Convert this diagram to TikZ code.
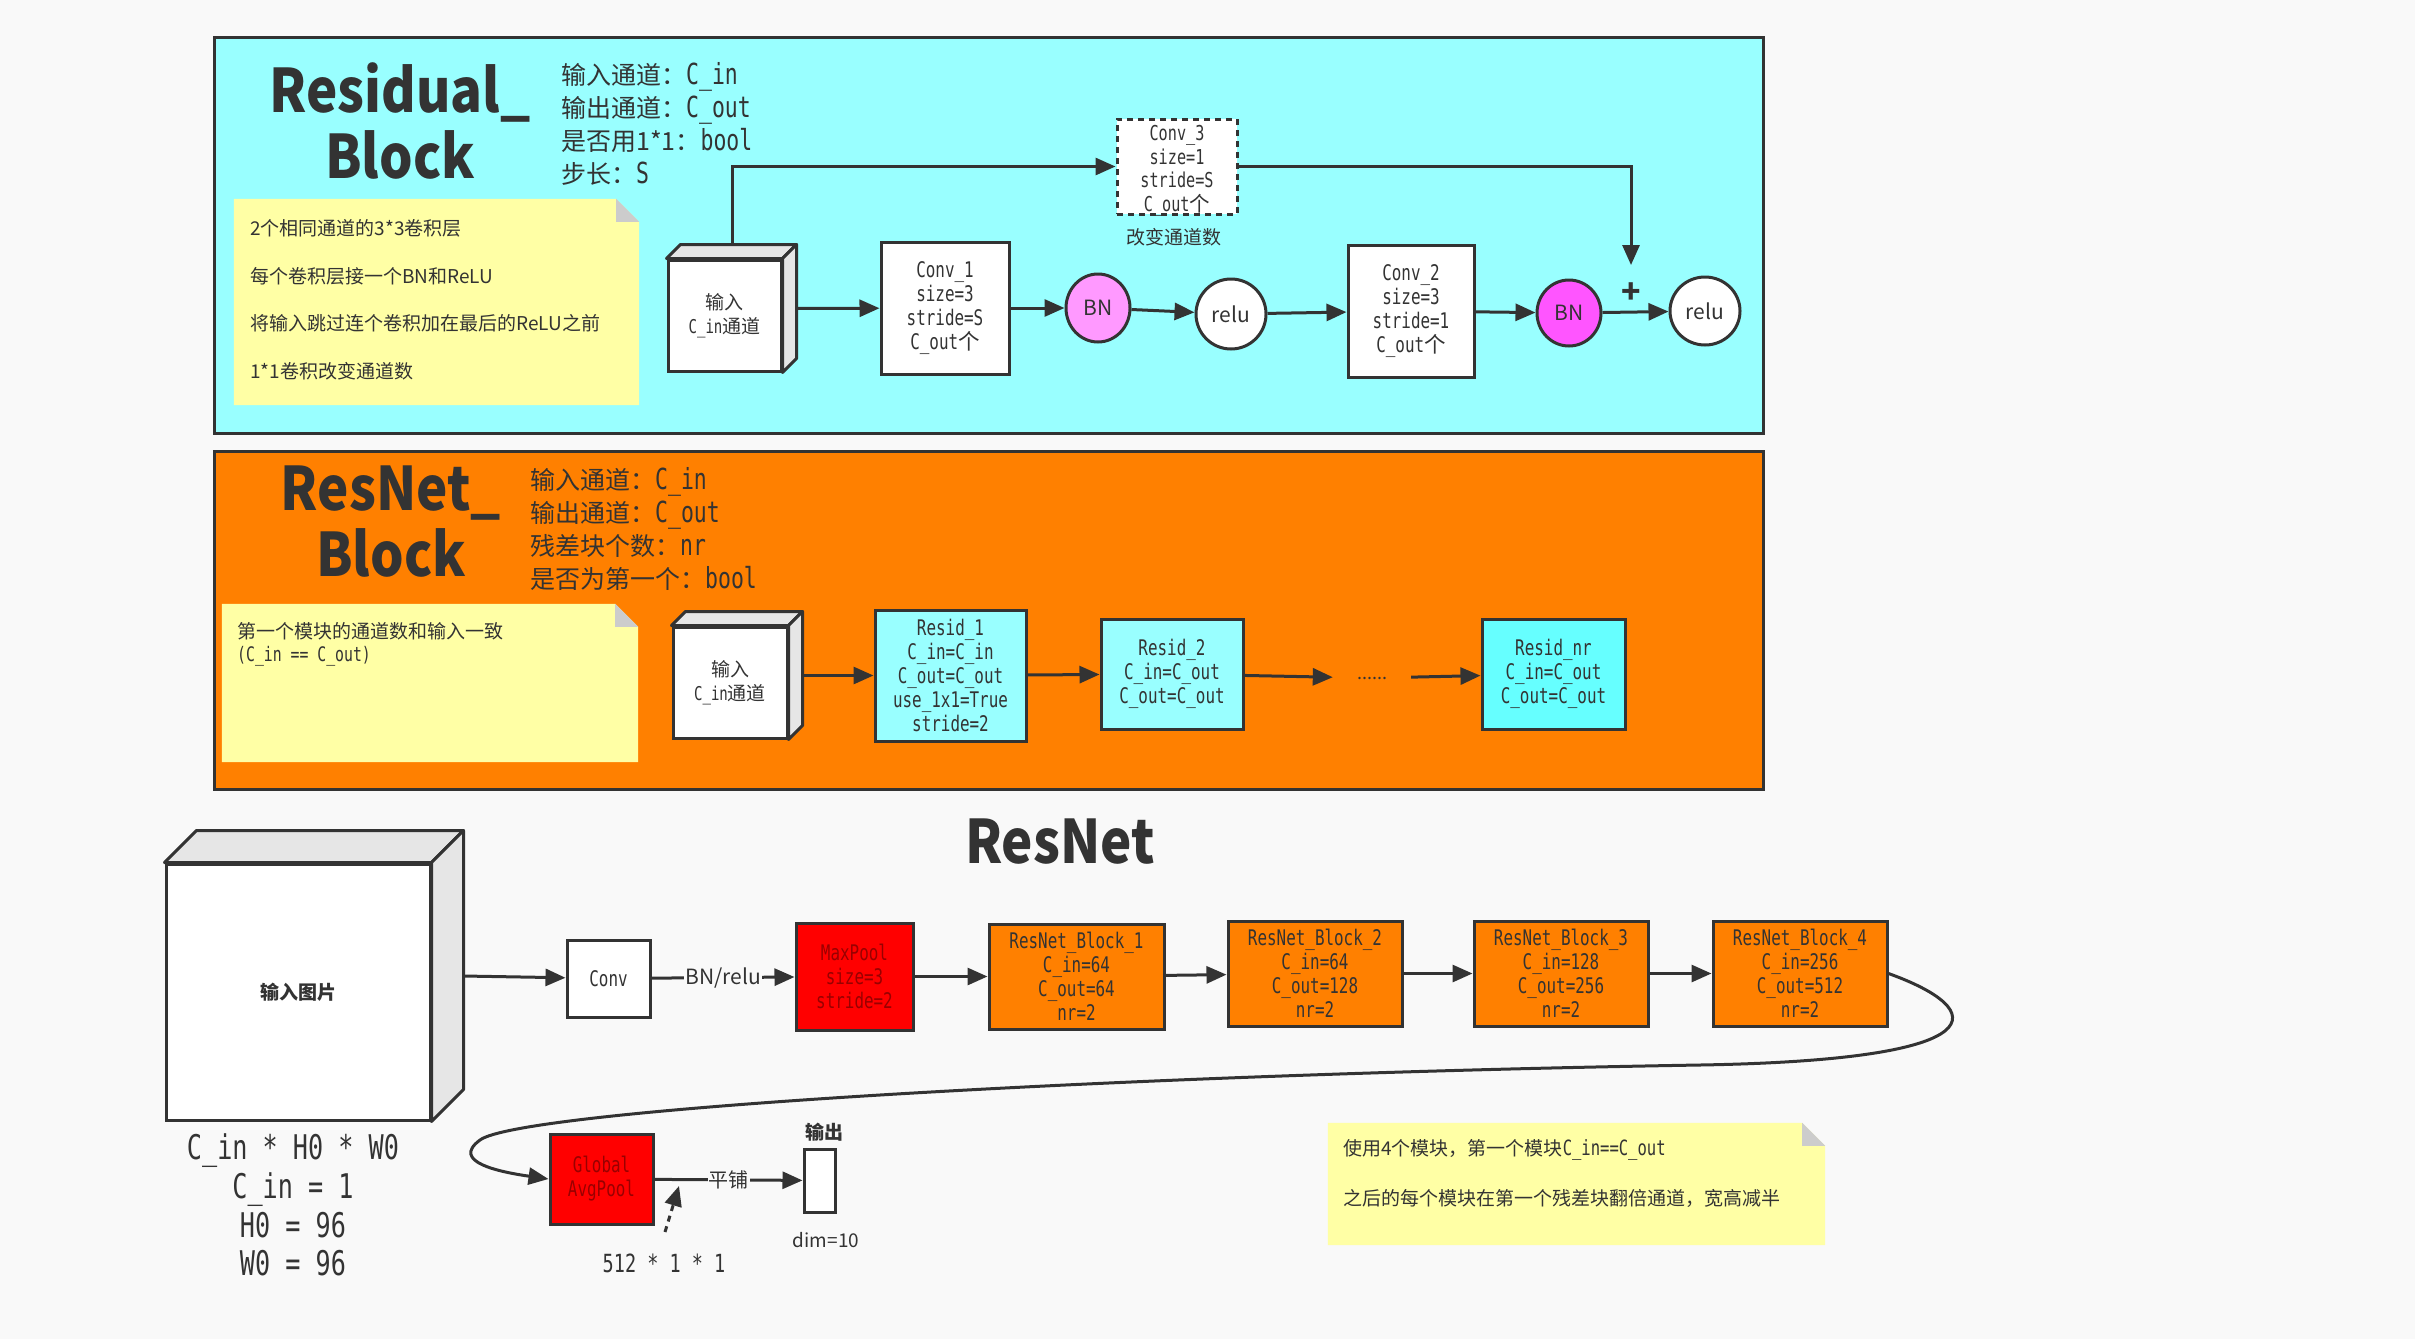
\documentclass[tikz,border=0pt]{standalone}
\usepackage{fontspec}
\setmainfont{Noto Sans CJK SC}
\newfontfamily\mono{DejaVu Sans Mono}[FakeStretch=0.74]
\newfontfamily\tfont{Noto Sans CJK SC}[FakeStretch=0.88]
\usetikzlibrary{arrows.meta,calc,shapes.geometric}
\definecolor{bg}{HTML}{F9F9F9}
\definecolor{lc}{HTML}{333333}
\definecolor{cyanb}{HTML}{99FFFF}
\definecolor{cyand}{HTML}{66FFFF}
\definecolor{orng}{HTML}{FF8000}
\definecolor{notey}{HTML}{FFFFA5}
\definecolor{foldg}{HTML}{CCCCCC}
\definecolor{cubeg}{HTML}{E6E6E6}
\definecolor{bnl}{HTML}{FF99FF}
\definecolor{bnd}{HTML}{FF55FF}
\definecolor{redt}{HTML}{990000}
\newcommand\cj[1]{{\rmfamily #1}}
\newcommand\pmono[1]{{\mono\fontsize{29}{33}\selectfont #1}}
\newcommand\cubefaces[2]{%
  \filldraw[fill=cubeg,draw=lc,line width=3pt,line join=round]
    (#1.north west) -- ++(#2,-#2) -- ($(#1.north east)+(#2,-#2)$) -- (#1.north east) -- cycle;
  \filldraw[fill=cubeg,draw=lc,line width=3pt,line join=round]
    (#1.north east) -- ++(#2,-#2) -- ($(#1.south east)+(#2,-#2)$) -- (#1.south east) -- cycle;}
\newcommand\notebg[2]{%
  \fill[notey] (#1.north west) -- ($(#1.north east)+(-#2,0)$) -- ($(#1.north east)+(0,#2)$)
    -- (#1.south east) -- (#1.south west) -- cycle;
  \fill[foldg] ($(#1.north east)+(-#2,0)$) -- ($(#1.north east)+(-#2,#2)$) -- ($(#1.north east)+(0,#2)$) -- cycle;}
\begin{document}
\begin{tikzpicture}[x=1pt,y=-1pt,
  every node/.style={text=lc},
  container/.style={draw=lc,line width=3pt,inner sep=0pt},
  box/.style={draw=lc,line width=3pt,fill=white,align=center,inner sep=0pt,font=\mono\fontsize{21.5}{24}\selectfont},
  cubefront/.style={draw=lc,line width=3pt,fill=white,align=center,inner sep=0pt,font=\fontsize{19}{24.5}\selectfont},
  circ/.style={ellipse,draw=lc,line width=3pt,inner sep=0pt,font=\fontsize{21}{24}\selectfont},
  arr/.style={draw=lc,line width=3pt,-{Triangle[length=20pt,width=17pt]}},
  txt/.style={inner sep=0pt,align=left},
  title/.style={inner sep=0pt,align=center,font=\tfont\bfseries\fontsize{60}{66}\selectfont},
  params/.style={inner sep=0pt,align=left,anchor=west,font=\fontsize{25}{33}\selectfont},
  notetxt/.style={inner sep=0pt,anchor=west,font=\fontsize{19}{22}\selectfont},
  holder/.style={inner sep=0pt}]
\fill[bg] (0,0) rectangle (2415,1339);
\useasboundingbox (0,0) rectangle (2415,1339);

% ===== Residual block =====
\node[container,fill=cyanb,minimum width=1549pt,minimum height=396pt] (resblk) at (988.5,235) {};
\node[title] (t1) at (400,121) {Residual\_\\Block};
\node[params] (p1) at (561,124) {输入通道：\pmono{C\_in}\\输出通道：\pmono{C\_out}\\是否用1*1：\pmono{bool}\\步长：\pmono{S}};
\node[holder,minimum width=405pt,minimum height=206pt] (note1) at (436.5,302) {};
\notebg{note1}{23}
\node[notetxt] (n1a) at (250,228) {2个相同通道的3*3卷积层};
\node[notetxt] (n1b) at (250,276) {每个卷积层接一个BN和ReLU};
\node[notetxt] (n1c) at (250,323) {将输入跳过连个卷积加在最后的ReLU之前};
\node[notetxt] (n1d) at (250,371) {1*1卷积改变通道数};

\node[cubefront,minimum width=113pt,minimum height=111pt] (cube1) at (724.5,315.5) {输入\\{\mono C\_in}通道};
\cubefaces{cube1}{14}
\node[box,minimum width=128pt,minimum height=132pt] (conv1) at (945,308) {Conv\_1\\size=3\\stride=S\\C\_out\cj{个}};
\node[circ,fill=bnl,minimum width=64pt,minimum height=68pt] (bn1) at (1098,308) {BN};
\node[circ,fill=white,minimum width=70pt,minimum height=70pt] (relu1) at (1231,314) {relu};
\node[box,minimum width=126pt,minimum height=132pt] (conv2) at (1411,311) {Conv\_2\\size=3\\stride=1\\C\_out\cj{个}};
\node[circ,fill=bnd,minimum width=64pt,minimum height=66pt] (bn2) at (1569,313) {BN};
\node[circ,fill=white,minimum width=70pt,minimum height=68pt] (relu2) at (1705,311) {relu};
\node[box,dash pattern=on 6pt off 5pt,minimum width=120pt,minimum height=95pt] (conv3) at (1177,166.5) {};
\node[txt,align=center,font=\mono\fontsize{20.5}{23.5}\selectfont] (conv3t) at (1177,171) {Conv\_3\\size=1\\stride=S\\C\_out\cj{个}};
\node[txt,font=\fontsize{19}{22}\selectfont] (lab3) at (1174,237) {改变通道数};
\node[txt,font=\bfseries\fontsize{32}{32}\selectfont] (plus) at (1631,293) {+};
\coordinate (plusin) at (1631,265);
\coordinate (c1top) at ($(cube1.north)+(7.5,-14)$);
\coordinate (c1side) at ($(cube1.east)+(14,-7)$);

\draw[arr] (c1side) -- (conv1);
\draw[arr] (conv1) -- (bn1);
\draw[arr] (bn1) -- (relu1);
\draw[arr] (relu1) -- (conv2);
\draw[arr] (conv2) -- (bn2);
\draw[arr] (bn2) -- (relu2);
\draw[arr] (c1top) |- (conv3.west);
\draw[arr] (conv3.east) -| (plusin);

% ===== ResNet block =====
\node[container,fill=orng,minimum width=1549pt,minimum height=338pt] (rnblk) at (988.5,620) {};
\node[title] (t2) at (391,522) {ResNet\_\\Block};
\node[params] (p2) at (530,528.5) {输入通道：\pmono{C\_in}\\输出通道：\pmono{C\_out}\\残差块个数：\pmono{nr}\\是否为第一个：\pmono{bool}};
\node[holder,minimum width=416pt,minimum height=158pt] (note2) at (430,683) {};
\notebg{note2}{23}
\node[notetxt] (n2a) at (237,631) {第一个模块的通道数和输入一致};
\node[notetxt,font=\mono\fontsize{20}{22}\selectfont] (n2b) at (237,656) {(C\_in == C\_out)};

\node[cubefront,minimum width=114pt,minimum height=111pt] (cube2) at (730,682.5) {输入\\{\mono C\_in}通道};
\cubefaces{cube2}{14}
\node[box,fill=cyanb,minimum width=151pt,minimum height=131pt] (resid1) at (950.5,675.5) {Resid\_1\\C\_in=C\_in\\C\_out=C\_out\\use\_1x1=True\\stride=2};
\node[box,fill=cyanb,minimum width=142pt,minimum height=110pt] (resid2) at (1172,674) {Resid\_2\\C\_in=C\_out\\C\_out=C\_out};
\node[holder,minimum width=78pt,minimum height=20pt,font=\fontsize{18}{20}\selectfont] (dots) at (1372,678) {......};
\node[box,fill=cyand,minimum width=143pt,minimum height=110pt] (residnr) at (1553.5,674) {Resid\_nr\\C\_in=C\_out\\C\_out=C\_out};
\coordinate (c2side) at ($(cube2.east)+(14,-7)$);
\draw[arr] (c2side) -- (resid1);
\draw[arr] (resid1) -- (resid2);
\draw[arr] (resid2) -- (dots);
\draw[arr] (dots) -- (residnr);

% ===== ResNet =====
\node[title] (t3) at (1060,842) {ResNet};
\node[cubefront,minimum width=264pt,minimum height=256pt,font=\bfseries\fontsize{19}{22}\selectfont] (bigcube) at (298,992) {输入图片};
\cubefaces{bigcube}{32}
\node[txt,align=center,font=\mono\fontsize{34}{38.7}\selectfont] (dims) at (293,1205) {C\_in * H0 * W0\\C\_in = 1\\H0 = 96\\W0 = 96};
\node[box,minimum width=83pt,minimum height=77pt] (conv) at (608.5,978.5) {Conv};
\node[box,fill=red,text=redt,minimum width=117pt,minimum height=107pt] (maxpool) at (854.5,976.5) {MaxPool\\size=3\\stride=2};
\node[box,fill=orng,minimum width=175pt,minimum height=105pt] (rb1) at (1076.5,976.5) {ResNet\_Block\_1\\C\_in=64\\C\_out=64\\nr=2};
\node[box,fill=orng,minimum width=174pt,minimum height=105pt] (rb2) at (1315,973.5) {ResNet\_Block\_2\\C\_in=64\\C\_out=128\\nr=2};
\node[box,fill=orng,minimum width=174pt,minimum height=105pt] (rb3) at (1561,973.5) {ResNet\_Block\_3\\C\_in=128\\C\_out=256\\nr=2};
\node[box,fill=orng,minimum width=174pt,minimum height=105pt] (rb4) at (1800,973.5) {ResNet\_Block\_4\\C\_in=256\\C\_out=512\\nr=2};
\node[box,fill=red,text=redt,minimum width=103pt,minimum height=90pt] (gap) at (601.5,1179) {Global\\AvgPool};
\node[box,minimum width=31pt,minimum height=63pt] (out) at (819.5,1180.5) {};
\node[txt,font=\bfseries\fontsize{19}{22}\selectfont] (outlab) at (824,1132) {输出};
\node[txt,font=\fontsize{19}{22}\selectfont] (dimlab) at (826,1240) {dim=10};
\node[txt,font=\mono\fontsize{25}{26}\selectfont] (lab512) at (664,1263) {512 * 1 * 1};
\node[holder,minimum width=497pt,minimum height=122pt] (note3) at (1576.5,1184) {};
\notebg{note3}{23}
\node[notetxt] (n3a) at (1343,1150) {使用4个模块，第一个模块{\mono\fontsize{21}{22}\selectfont C\_in==C\_out}};
\node[notetxt] (n3b) at (1343,1198) {之后的每个模块在第一个残差块翻倍通道，宽高减半};

\coordinate (bcside) at ($(bigcube.east)+(32,-16)$);
\draw[arr] (bcside) -- (conv);
\draw[arr] (conv) -- node[fill=bg,inner sep=1pt,font=\fontsize{21}{24}\selectfont] (bnrelu) {BN/relu} (maxpool);
\draw[arr] (maxpool) -- (rb1);
\draw[arr] (rb1) -- (rb2);
\draw[arr] (rb2) -- (rb3);
\draw[arr] (rb3) -- (rb4);
\draw[arr] (rb4.east) .. controls (1990,1010) and (2000,1060) .. (1700,1065)
  .. controls (1100,1075) and (520,1110) .. (480,1140)
  .. controls (450,1162) and (500,1172) .. (gap.west);
\draw[arr] (gap) -- node[fill=bg,inner sep=1pt,font=\fontsize{20}{22}\selectfont] (pingpu) {平铺} (out);
\coordinate (dsA) at (665,1232);
\coordinate (dsB) at (679,1186);
\draw[arr,dash pattern=on 6pt off 5pt] (dsA) -- (dsB);
\end{tikzpicture}
\end{document}
